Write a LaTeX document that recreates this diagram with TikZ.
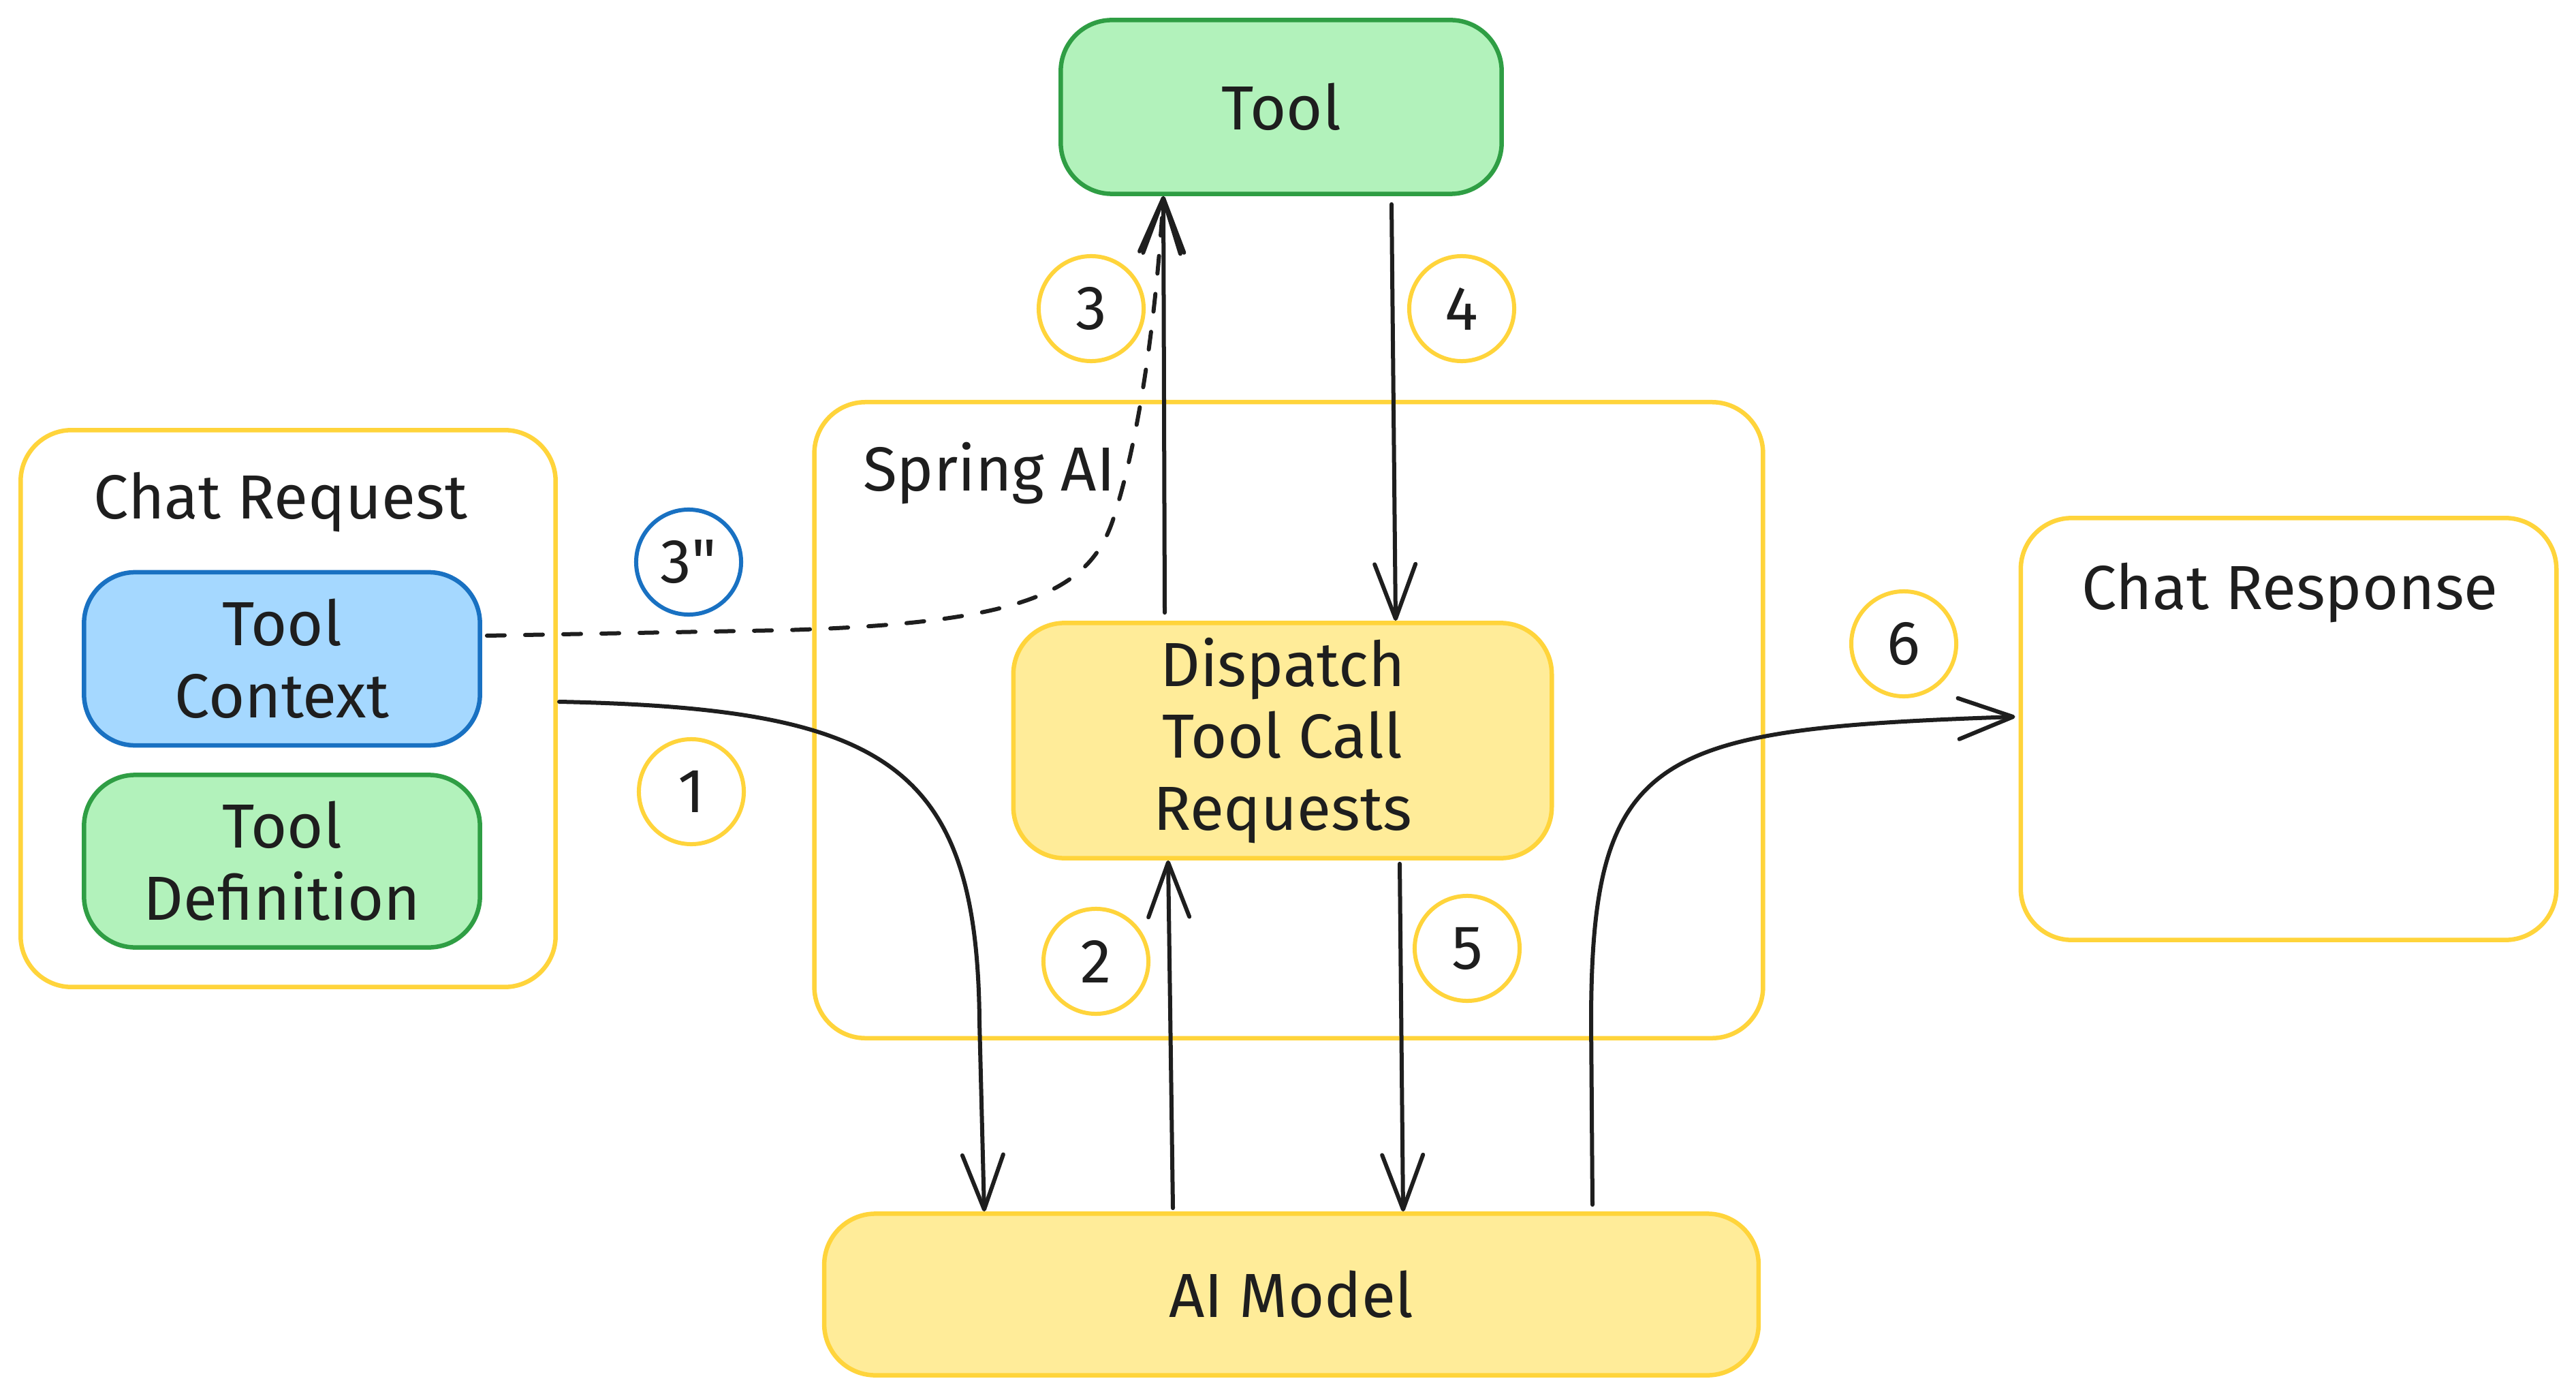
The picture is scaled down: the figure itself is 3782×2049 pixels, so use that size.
\documentclass[tikz,border=0pt]{standalone}
\usepackage{fontspec}
\setmainfont{Fira Sans}
\newfontfamily\plainquotes{Fira Sans}[Ligatures=TeXOff]
\usetikzlibrary{arrows.meta,calc}

\definecolor{ink}{HTML}{1E1E1E}
\definecolor{ystroke}{HTML}{FFD43B}
\definecolor{yfill}{HTML}{FFEC99}
\definecolor{gstroke}{HTML}{2F9E44}
\definecolor{gfill}{HTML}{B2F2BB}
\definecolor{bstroke}{HTML}{1971C2}
\definecolor{bfill}{HTML}{A5D8FF}

\begin{document}
\begin{tikzpicture}[x=0.01cm, y=-0.01cm,
  every node/.style={text=ink, font=\fontsize{26}{30}\selectfont},
  box/.style={rectangle, rounded corners=0.75cm, line width=0.065cm,
              align=center, inner sep=0pt},
  framebox/.style={box, draw=ystroke, fill=white},
  yellowbox/.style={box, draw=ystroke, fill=yfill},
  greenbox/.style={box, draw=gstroke, fill=gfill},
  bluebox/.style={box, draw=bstroke, fill=bfill},
  num/.style={circle, draw=ystroke, fill=white, line width=0.06cm,
              minimum size=1.54cm, inner sep=0pt},
  flow/.style={draw=ink, line width=0.06cm, line cap=round, line join=round,
               -{Straight Barb[length=0.8cm, width=0.6cm, line cap=round, line join=round]}},
  dashflow/.style={flow, dash pattern=on 0.26cm off 0.3cm},
]
\useasboundingbox (0,0) rectangle (3782,2049);

% containers
\node[framebox, minimum width=13.92cm, minimum height=9.33cm] (spring) at (1892,1057) {};
\node (springlbl) at (1452,695) {Spring AI};

\node[framebox, minimum width=7.85cm, minimum height=8.17cm] (req) at (423,1040) {};
\node (reqlbl) at (412,737) {Chat Request};
\node[bluebox, minimum width=5.81cm, minimum height=2.54cm] (ctx) at (414,967) {Tool\\Context};
\node[greenbox, minimum width=5.81cm, minimum height=2.53cm] (def) at (414,1264) {Tool\\Definition};

\node[framebox, minimum width=7.86cm, minimum height=6.19cm] (resp) at (3360,1070) {};
\node (resplbl) at (3362,870) {Chat Response};

% main blocks
\node[greenbox, minimum width=6.47cm, minimum height=2.55cm] (tool) at (1881,157) {Tool};
\node[yellowbox, minimum width=7.90cm, minimum height=3.45cm] (disp) at (1883,1087) {Dispatch\\Tool Call\\Requests};
\node[yellowbox, minimum width=13.71cm, minimum height=2.37cm] (model) at (1896,1900) {AI Model};

% step markers
\node[num] (n1) at (1015,1162) {1};
\node[num] (n2) at (1609,1411) {2};
\node[num] (n3) at (1602,453) {3};
\node[num, draw=bstroke] (n3b) at (1011,825) {\plainquotes 3"};
\node[num] (n4) at (2146,453) {4};
\node[num] (n5) at (2154,1392) {5};
\node[num] (n6) at (2795,945) {6};

% connectors
\draw[flow] ($(req.east)+(2,-10)$) .. controls (1300,1040) and (1435,1120) .. (1438,1500)
  -- ($(model.north)+(-451,0)$);
\draw[flow] ($(model.north)+(-174,-5)$) -- ($(disp.south)+(-168,0)$);
\draw[flow] ($(disp.north)+(-173,-12)$) -- ($(tool.south)+(-173,0)$);
\draw[flow] ($(tool.south)+(162,12)$) -- ($(disp.north)+(166,0)$);
\draw[flow] ($(disp.south)+(172,5)$) -- ($(model.north)+(164,0)$);
\draw[flow] ($(model.north)+(442,-10)$) -- (2336,1500)
  .. controls (2336,1100) and (2430,1070) .. ($(resp.west)+(-5,-18)$);
\draw[dashflow] ($(ctx.east)+(7,-34)$) -- (1150,925)
  .. controls (1500,915) and (1600,870) .. (1635,760)
  .. controls (1680,620) and (1700,420) .. ($(tool.south)+(-173,0)$);
\end{tikzpicture}
\end{document}
